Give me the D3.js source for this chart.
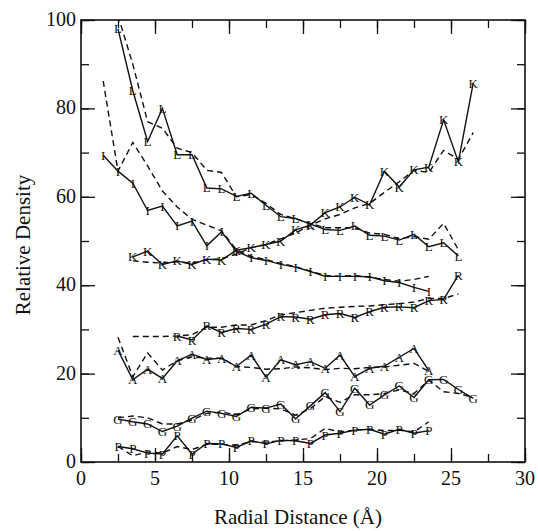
<!DOCTYPE html>
<html lang="en">
<head>
    <meta charset="UTF-8">
    <title>Relative Density vs Radial Distance</title>
    <script src="https://d3js.org/d3.v7.min.js"></script>
    <style>
        body {
            margin: 0;
            background: #fff;
        }

        svg text {
            font-family: "Liberation Serif", "Times New Roman", serif;
            fill: #111;
        }

        .tick-label {
            font-size: 20px;
        }

        .axis-title {
            font-size: 21px;
        }

        .marker {
            font-size: 13px;
        }
    </style>
</head>
<body>
<script>
    //bin centres (Å)
    const radius = [1.5, 2.5, 3.5, 4.5, 5.5, 6.5, 7.5, 8.5, 9.5, 10.5, 11.5, 12.5, 13.5,
        14.5, 15.5, 16.5, 17.5, 18.5, 19.5, 20.5, 21.5, 22.5, 23.5, 24.5, 25.5, 26.5];

    //solid = with letter markers, dashed = comparison curve (null = no value)
    const leuSolid = [null, 98, 84, 72.5, 80, 69.5, 69.5, 62, 61.8, 60.1, 60.8, 58.1, 55.5,
        55.1, 53.8, 52.6, 52.4, 53.4, 51.3, 51.1, 50.2, 51.5, 48.7, 49.6, 46.6, null];
    const leuDashed = [null, 101, 90, 77, 75.5, 71, 70, 66, 65.5, 60, 60.5, 58.5, 56,
        55, 54, 53, 53, 53, 51.8, 51.5, 50.5, 51, 50.4, 54, 48, null];

    const ileSolid = [69.4, 65.8, 63.1, 56.9, 57.9, 53.4, 54.5, 48.9, 52.1, 47.7, 46.2, 45.6, 44.7,
        44.1, 43.1, 42, 42, 42, 41.9, 41, 40.6, 39.5, 38.6, null, null, null];
    const ileDashed = [86.2, 65.8, 72.3, 67, 61.3, 57.7, 54.9, 53.6, 52.3, 48, 46.5, 45.8, 44.9,
        44.2, 43.2, 42.2, 42, 42.2, 41.8, 41.3, 40.9, 41.3, 42, null, null, null];

    const lysSolid = [null, null, 46.4, 47.7, 44.7, 45.5, 44.7, 45.9, 45.7, 47.9, 48.5, 49.2, 50,
        52.5, 53.6, 56.4, 57.7, 59.9, 58.2, 65.8, 62.2, 66.1, 66.7, 77.4, 67.9, 85.7];
    const lysDashed = [null, null, 45.5, 45.2, 45, 45.3, 45, 45.7, 46, 47, 48.5, 49.2, 50.5,
        51.8, 53.6, 55, 56, 57.5, 58.5, 61, 63.4, 66, 65.5, 70.5, 68.5, 74.5];

    const argSolid = [null, null, null, null, null, 28.5, 27.6, 30.8, 29.3, 30.2, 30, 31.2, 32.9,
        32.8, 32.3, 33.3, 33.6, 32.7, 34, 35, 35.1, 34.9, 36.5, 36.8, 42.3, null];
    const argDashed = [null, null, 28.4, 28.4, 28.4, 28.5, 28.8, 30.5, 30.5, 31, 31, 32, 33.3,
        33.8, 34.3, 34.8, 35, 35.2, 35.3, 35.6, 35.8, 36.2, 37, 37, 38, null];

    const alaSolid = [null, 25.3, 18.6, 21, 18.9, 22.9, 24.4, 23.2, 23.5, 21.6, 24.2, 19.2, 23.1,
        22, 22.7, 21.2, 24.2, 19.3, 21.2, 21.7, 23.7, 25.7, 20.7, null, null, null];
    const alaDashed = [null, 28.2, 19.3, 24.7, 20.8, 22.9, 23.8, 23.5, 23.5, 21.6, 21.4, 21, 21.1,
        21.5, 21.3, 20.9, 21.2, 21.1, 21.4, 21.5, 21.9, 22.3, 20.5, null, null, null];

    const glySolid = [null, 9.7, 9.1, 8.6, 6.9, 8.1, 9.9, 11.5, 11, 10.3, 12.4, 12.2, 13.1,
        9.8, 12.7, 15.7, 11.4, 16.7, 12.9, 15.2, 17.2, 14.6, 18.6, 18.7, 16.4, 14.4];
    const glyDashed = [null, 10, 10.4, 10, 8.6, 8.6, 9.5, 11, 11.3, 10.7, 12, 12.2, 12,
        10.6, 12.1, 14.8, 13.5, 15.2, 15.2, 15.5, 16.3, 15.5, 18.5, 15.9, 15.5, 14.6];

    const proSolid = [null, 3.5, 3, 2, 1.8, 5.9, 1.8, 4.2, 4.1, 3.3, 4.8, 4.1, 4.9,
        4.8, 4.2, 6.1, 6.5, 7.2, 7.4, 6.3, 7.4, 6.5, 7.1, null, null, null];
    const proDashed = [null, 3.5, 1.4, 2.3, 2, 3.5, 2.8, 4, 4, 3.8, 4.6, 4.5, 4.8,
        5, 5.3, 7.6, 6.8, 7.2, 7.4, 7.1, 7.2, 6.8, 9.1, null, null, null];

    const series = [
        {letter: 'L', solid: leuSolid, dashed: leuDashed},
        {letter: 'I', solid: ileSolid, dashed: ileDashed},
        {letter: 'K', solid: lysSolid, dashed: lysDashed},
        {letter: 'R', solid: argSolid, dashed: argDashed},
        {letter: 'A', solid: alaSolid, dashed: alaDashed},
        {letter: 'G', solid: glySolid, dashed: glyDashed},
        {letter: 'P', solid: proSolid, dashed: proDashed}
    ];

    const xTicks = [0, 5, 10, 15, 20, 25, 30];
    const yTicks = [0, 20, 40, 60, 80, 100];

    //basic size
    const width = 538;
    const height = 531;
    const margin = {top: 20, right: 13, bottom: 69, left: 81};
    const innerW = width - margin.left - margin.right;
    const innerH = height - margin.top - margin.bottom;

    const x = d3.scaleLinear().domain([0, 30]).range([0, innerW]);
    const y = d3.scaleLinear().domain([0, 100]).range([innerH, 0]);

    const svg = d3.select("body").append("svg")
        .attr("width", width).attr("height", height);
    const chart = svg.append("g").attr("transform", "translate(" + margin.left + "," + margin.top + ")");

    svg.append("defs").append("clipPath").attr("id", "plot-clip")
        .append("rect").attr("width", innerW).attr("height", innerH);

    //ticks on all four sides, pointing inwards
    const majorLen = 14, minorLen = 8;
    const xMinor = d3.range(0, 30.01, 2.5);
    const yMinor = d3.range(0, 100.01, 10);

    const axisG = chart.append("g").attr("class", "axes");

    function addTicks(axis, ticks, len, shift) {
        const g = axisG.append("g").attr("transform", shift);
        g.call(axis.tickValues(ticks).tickSize(-len).tickFormat("").tickSizeOuter(0));
        g.select(".domain").remove();
        g.selectAll("line").attr("stroke", "#111").attr("stroke-width", 1.3);
    }

    const bottomShift = "translate(0," + innerH + ")";
    const rightShift = "translate(" + innerW + ",0)";
    addTicks(d3.axisBottom(x), xMinor, minorLen, bottomShift);
    addTicks(d3.axisBottom(x), xTicks, majorLen, bottomShift);
    addTicks(d3.axisTop(x), xMinor, minorLen, null);
    addTicks(d3.axisTop(x), xTicks, majorLen, null);
    addTicks(d3.axisLeft(y), yMinor, minorLen, null);
    addTicks(d3.axisLeft(y), yTicks, majorLen, null);
    addTicks(d3.axisRight(y), yMinor, minorLen, rightShift);
    addTicks(d3.axisRight(y), yTicks, majorLen, rightShift);

    //frame
    chart.append("rect").attr("width", innerW).attr("height", innerH)
        .attr("fill", "none").attr("stroke", "#111").attr("stroke-width", 1.6);

    //tick labels
    chart.append("g").selectAll("text").data(xTicks).enter().append("text")
        .attr("class", "tick-label")
        .attr("x", d => x(d)).attr("y", innerH + 23)
        .attr("text-anchor", "middle")
        .text(d => d);
    chart.append("g").selectAll("text").data(yTicks).enter().append("text")
        .attr("class", "tick-label")
        .attr("x", -5).attr("y", d => y(d) + 6)
        .attr("text-anchor", "end")
        .text(d => d);

    //axis titles
    svg.append("text").attr("class", "axis-title")
        .attr("transform", "translate(30," + (margin.top + innerH / 2 + 4) + ") rotate(-90)")
        .attr("text-anchor", "middle")
        .text("Relative Density");
    svg.append("text").attr("class", "axis-title")
        .attr("x", margin.left + innerW / 2 - 5).attr("y", 524)
        .attr("text-anchor", "middle")
        .text("Radial Distance  (Å)");

    //curves
    const line = d3.line()
        .defined(d => d[1] !== null)
        .x(d => x(d[0]))
        .y(d => y(d[1]));

    const plot = chart.append("g").attr("clip-path", "url(#plot-clip)");

    series.forEach(s => {
        const solidPts = radius.map((r, i) => [r, s.solid[i]]);
        const dashedPts = radius.map((r, i) => [r, s.dashed[i]]);

        plot.append("path").datum(dashedPts)
            .attr("d", line)
            .attr("fill", "none")
            .attr("stroke", "#111")
            .attr("stroke-width", 1.4)
            .attr("stroke-dasharray", "6,4");

        plot.append("path").datum(solidPts)
            .attr("d", line)
            .attr("fill", "none")
            .attr("stroke", "#111")
            .attr("stroke-width", 1.4);

        plot.append("g").selectAll("text")
            .data(solidPts.filter(d => d[1] !== null))
            .enter().append("text")
            .attr("class", "marker")
            .attr("x", d => x(d[0]))
            .attr("y", d => y(d[1]) + 4.5)
            .attr("text-anchor", "middle")
            .text(s.letter);
    });
</script>
</body>
</html>
